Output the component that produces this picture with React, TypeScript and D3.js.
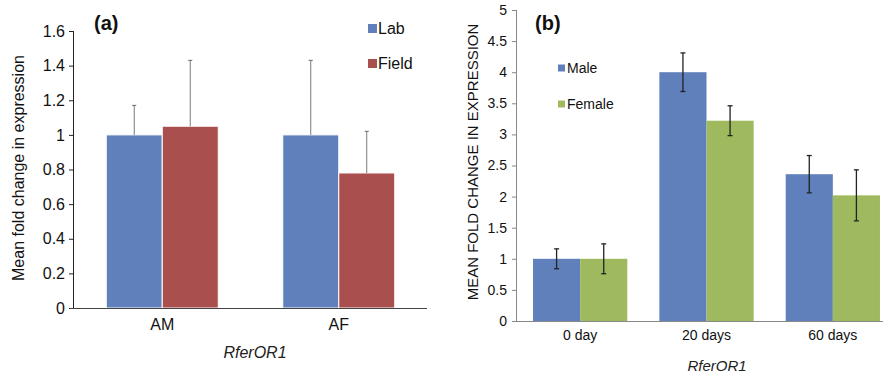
import * as d3 from 'd3';
import { useEffect, useRef } from 'react';

// Panel (a) data
const catsA = ['AM', 'AF'];
const seriesA = ['Lab', 'Field'];
const labVals = [1.0, 1.0];
const labErr = [0.17, 0.43];
const fieldVals = [1.05, 0.78];
const fieldErr = [0.38, 0.24];
const ticksA = [0, 0.2, 0.4, 0.6, 0.8, 1, 1.2, 1.4, 1.6];

// Panel (b) data
const catsB = ['0 day', '20 days', '60 days'];
const seriesB = ['Male', 'Female'];
const maleVals = [1.0, 4.0, 2.36];
const maleErr = [0.16, 0.31, 0.3];
const femaleVals = [1.0, 3.22, 2.02];
const femaleErr = [0.24, 0.24, 0.41];
const ticksB = [0, 0.5, 1, 1.5, 2, 2.5, 3, 3.5, 4, 4.5, 5];

const BLUE = '#5f80bb';
const RED = '#a9504f';
const GREEN = '#9fba5e';
const FONT = '"Liberation Sans", Arial, Helvetica, sans-serif';

export default function App() {
  const ref = useRef<SVGSVGElement>(null);

  useEffect(() => {
    if (!ref.current) return;
    const svg = d3.select(ref.current);
    svg.selectAll('*').remove();
    svg.attr('font-family', FONT);

    // ---------- Panel (a) ----------
    const ga = svg.append('g');
    const xa = d3.scaleBand().domain(catsA).range([74, 427]).padding(0);
    const xa1 = d3.scaleBand().domain(seriesA).range([0, xa.bandwidth()]).paddingOuter(0.576).paddingInner(0);
    const ya = d3.scaleLinear().domain([0, 1.6]).range([308, 31]);

    const dataA = catsA.flatMap((c, i) => [
      { cat: c, s: 'Lab', v: labVals[i], e: labErr[i], color: BLUE },
      { cat: c, s: 'Field', v: fieldVals[i], e: fieldErr[i], color: RED },
    ]);

    ga.selectAll('rect.bar')
      .data(dataA)
      .join('rect')
      .attr('class', 'bar')
      .attr('x', d => xa(d.cat)! + xa1(d.s)!)
      .attr('y', d => ya(d.v))
      .attr('width', xa1.bandwidth())
      .attr('height', d => ya(0) - ya(d.v))
      .attr('fill', d => d.color)
      .attr('stroke', '#fff')
      .attr('stroke-width', 1);

    // one-sided error bars
    dataA.forEach(d => {
      const cx = xa(d.cat)! + xa1(d.s)! + xa1.bandwidth() / 2;
      ga.append('line').attr('x1', cx).attr('x2', cx)
        .attr('y1', ya(d.v)).attr('y2', ya(d.v + d.e))
        .attr('stroke', '#7a7a7a').attr('stroke-width', 1);
      ga.append('line').attr('x1', cx - 2).attr('x2', cx + 2)
        .attr('y1', ya(d.v + d.e)).attr('y2', ya(d.v + d.e))
        .attr('stroke', '#7a7a7a').attr('stroke-width', 1.2);
    });

    const yAxA = ga.append('g').attr('transform', 'translate(74,0)')
      .call(d3.axisLeft(ya).tickValues(ticksA).tickSize(5).tickPadding(4).tickFormat(d => String(d)));
    yAxA.select('.domain').attr('stroke', '#222').attr('d', `M-0.5,${ya(1.6)}V${ya(0)}`);
    yAxA.selectAll('.tick line').attr('stroke', '#222');
    yAxA.selectAll('.tick text').attr('font-size', 16).attr('fill', '#111').attr('font-family', FONT);

    ga.append('line').attr('x1', 70).attr('x2', 427).attr('y1', 308.5).attr('y2', 308.5)
      .attr('stroke', '#444').attr('stroke-width', 1.2);

    ga.selectAll('text.xcat')
      .data(catsA)
      .join('text')
      .attr('class', 'xcat')
      .attr('x', d => xa(d)! + xa.bandwidth() / 2)
      .attr('y', 330)
      .attr('text-anchor', 'middle')
      .attr('font-size', 16)
      .attr('fill', '#111')
      .text(d => d);

    ga.append('text').attr('x', 255).attr('y', 358).attr('text-anchor', 'middle')
      .attr('font-size', 16).attr('font-style', 'italic').attr('fill', '#222').text('RferOR1');

    ga.append('text').attr('transform', 'translate(24,168) rotate(-90)').attr('text-anchor', 'middle')
      .attr('font-size', 16).attr('fill', '#111').text('Mean fold change in expression');

    ga.append('text').attr('x', 94).attr('y', 30).attr('font-size', 20).attr('font-weight', 'bold')
      .attr('fill', '#111').text('(a)');

    const legA = ga.selectAll('g.leg').data(seriesA).join('g').attr('class', 'leg')
      .attr('transform', (_, i) => `translate(368,${28 + i * 35})`);
    legA.append('rect').attr('x', 0).attr('y', -4).attr('width', 9).attr('height', 9)
      .attr('fill', (_, i) => (i === 0 ? BLUE : RED));
    legA.append('text').attr('x', 10).attr('y', 6).attr('font-size', 16).attr('fill', '#111').text(d => d);

    // ---------- Panel (b) ----------
    const gb = svg.append('g');
    const xb = d3.scaleBand().domain(catsB).range([517, 896]).padding(0);
    const xb1 = d3.scaleBand().domain(seriesB).range([0, xb.bandwidth()]).paddingOuter(0.34).paddingInner(0);
    const yb = d3.scaleLinear().domain([0, 5]).range([321, 10]);

    const dataB = catsB.flatMap((c, i) => [
      { cat: c, s: 'Male', v: maleVals[i], e: maleErr[i], color: BLUE },
      { cat: c, s: 'Female', v: femaleVals[i], e: femaleErr[i], color: GREEN },
    ]);

    gb.selectAll('rect.bar')
      .data(dataB)
      .join('rect')
      .attr('class', 'bar')
      .attr('x', d => xb(d.cat)! + xb1(d.s)!)
      .attr('y', d => yb(d.v))
      .attr('width', xb1.bandwidth())
      .attr('height', d => yb(0) - yb(d.v))
      .attr('fill', d => d.color);

    dataB.forEach(d => {
      const cx = xb(d.cat)! + xb1(d.s)! + xb1.bandwidth() / 2;
      const lo = yb(d.v - d.e);
      const hi = yb(d.v + d.e);
      gb.append('line').attr('x1', cx).attr('x2', cx).attr('y1', lo).attr('y2', hi)
        .attr('stroke', '#222').attr('stroke-width', 1.3);
      [lo, hi].forEach(yy => {
        gb.append('line').attr('x1', cx - 2.5).attr('x2', cx + 2.5).attr('y1', yy).attr('y2', yy)
          .attr('stroke', '#222').attr('stroke-width', 1.3);
      });
    });

    const yAxB = gb.append('g').attr('transform', 'translate(517,0)')
      .call(d3.axisLeft(yb).tickValues(ticksB).tickSize(5).tickPadding(5).tickFormat(d => String(d)));
    yAxB.select('.domain').attr('stroke', '#888').attr('d', `M-0.5,${yb(5)}V${yb(0)}`);
    yAxB.selectAll('.tick line').attr('stroke', '#888');
    yAxB.selectAll('.tick text').attr('font-size', 14).attr('fill', '#111').attr('font-family', FONT);

    gb.append('line').attr('x1', 513).attr('x2', 883).attr('y1', 321.5).attr('y2', 321.5)
      .attr('stroke', '#888').attr('stroke-width', 1.2);

    gb.selectAll('text.xcat')
      .data(catsB)
      .join('text')
      .attr('class', 'xcat')
      .attr('x', d => xb(d)! + xb.bandwidth() / 2)
      .attr('y', 340)
      .attr('text-anchor', 'middle')
      .attr('font-size', 14)
      .attr('fill', '#111')
      .text(d => d);

    gb.append('text').attr('x', 717).attr('y', 371).attr('text-anchor', 'middle')
      .attr('font-size', 15).attr('font-style', 'italic').attr('fill', '#222').text('RferOR1');

    gb.append('text').attr('transform', 'translate(478,162) rotate(-90)').attr('text-anchor', 'middle')
      .attr('font-size', 15).attr('fill', '#111').text('MEAN FOLD CHANGE IN EXPRESSION');

    gb.append('text').attr('x', 535).attr('y', 30).attr('font-size', 20).attr('font-weight', 'bold')
      .attr('fill', '#111').text('(b)');

    const legB = gb.selectAll('g.leg').data(seriesB).join('g').attr('class', 'leg')
      .attr('transform', (_, i) => `translate(558,${68 + i * 36})`);
    legB.append('rect').attr('x', 0).attr('y', -3.5).attr('width', 7).attr('height', 7)
      .attr('fill', (_, i) => (i === 0 ? BLUE : GREEN));
    legB.append('text').attr('x', 9).attr('y', 5).attr('font-size', 14).attr('fill', '#111').text(d => d);
  }, []);

  return (
    <div style={{ position: 'fixed', left: 0, top: 0, width: 883, height: 378, overflow: 'hidden' }}>
      <svg ref={ref} width={883} height={378} style={{ display: 'block', background: '#fff' }} />
    </div>
  );
}
